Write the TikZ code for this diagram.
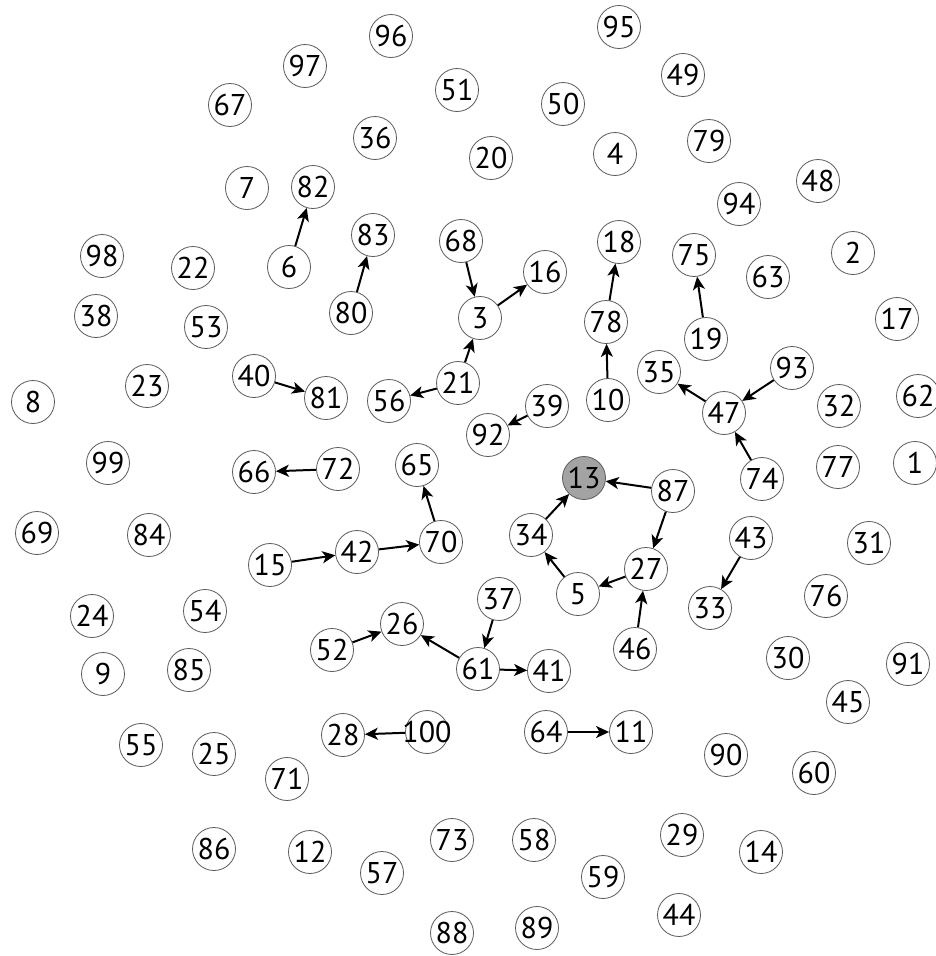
\documentclass[tikz,border=0pt]{standalone}
\usepackage{fontspec}
\setmainfont{PT Sans}
\usepackage{tikz}
\usepackage{xcolor}
\usetikzlibrary{arrows.meta}
\definecolor{ring}{HTML}{5A5A5A}
\definecolor{hub}{HTML}{A3A3A3}
\newcommand{\vlabel}[1]{\makebox[0pt]{#1}}
\tikzset{
  vertex/.style={circle, draw=ring, fill=white, line width=0.8pt, minimum size=43pt,
                 inner sep=0pt, font=\fontsize{30}{32}\selectfont},
  arrow/.style={-{Stealth[length=13pt,width=12pt,inset=3.5pt]}, line width=2pt, draw=black}
}
\begin{document}
\begin{tikzpicture}[x=1pt,y=-1pt]
  \useasboundingbox (0,0) rectangle (935,956);

  % vertices: label/x/y
  \foreach \n/\x/\y in {96/391/36, 97/305/66, 67/230/105, 51/457/90, 36/375/138,
      7/247/188, 82/313/187, 98/102/256, 22/193/268, 6/289/267, 83/373/235,
      68/461/241, 38/96/316, 53/206/327, 80/351/313, 40/254/376, 81/326/398,
      56/389/401, 23/147/386, 8/33/402, 99/108/463, 66/254/472, 72/338/469,
      65/417/465, 21/458/383}
    \node[vertex] (n\n) at (\x,\y) {\vlabel{\n}};

  \foreach \n/\x/\y in {95/619/27, 49/683/75, 50/563/104, 20/491/158, 4/615/154,
      79/709/141, 48/818/181, 94/739/204, 18/619/242, 75/694/255, 63/768/277,
      2/853/253, 16/545/272, 3/480/318, 78/606/322, 17/897/319, 19/706/339,
      35/659/372, 93/792/368, 47/724/413, 32/839/406, 62/918/396, 39/547/406,
      10/608/400, 92/488/435, 77/838/467, 1/915/463, 74/762/479}
    \node[vertex] (n\n) at (\x,\y) {\vlabel{\n}};

  \foreach \n/\x/\y in {69/37/533, 84/149/535, 15/270/565, 42/357/552, 70/441/542,
      24/92/616, 54/205/611, 26/402/624, 52/332/650, 9/103/674, 85/189/670,
      55/141/745, 25/214/754, 28/343/735, 100/427/732, 71/287/779, 86/214/849,
      12/310/852, 57/382/873, 73/452/840, 88/452/933}
    \node[vertex] (n\n) at (\x,\y) {\vlabel{\n}};

  \foreach \n/\x/\y in {87/673/491, 34/531/535, 27/646/569, 5/578/594, 43/751/538,
      31/869/543, 37/499/599, 33/710/608, 76/826/596, 46/635/649, 61/478/669,
      41/549/671, 30/788/658, 91/908/664, 45/848/702, 64/546/732, 11/631/732,
      90/726/755, 60/814/773, 58/534/840, 29/682/835, 14/761/852, 59/603/877,
      44/679/915, 89/537/928}
    \node[vertex] (n\n) at (\x,\y) {\vlabel{\n}};

  \node[vertex,fill=hub] (n13) at (584,478) {13};

  % directed links
  \foreach \a/\b in {6/82, 80/83, 68/3, 3/16, 21/3, 21/56, 78/18, 10/78, 19/75,
      47/35, 93/47, 74/47, 40/81, 39/92, 72/66, 70/65, 42/70, 15/42, 87/13,
      34/13, 87/27, 5/34, 27/5, 46/27, 43/33, 37/61, 61/26, 61/41, 52/26,
      100/28, 64/11}
    \draw[arrow] (n\a) -- (n\b);
\end{tikzpicture}
\end{document}
